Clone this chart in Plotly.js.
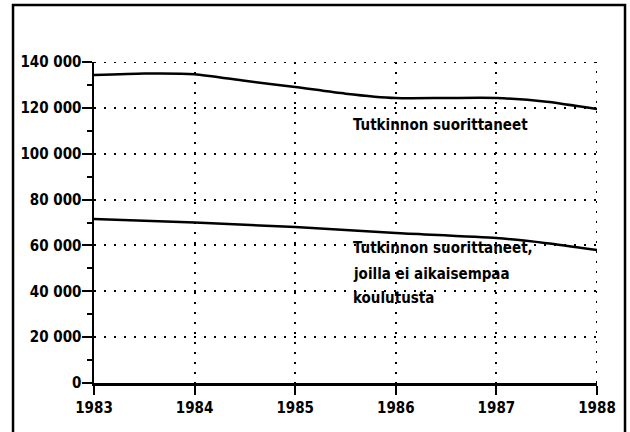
<!DOCTYPE html>
<html>
<head>
<meta charset="utf-8">
<script src="https://cdn.plot.ly/plotly-3.0.1.min.js"></script>
<style>html,body{margin:0;padding:0;background:#fff;}#chart{width:630px;height:432px;}</style>
</head>
<body>
<div id="chart"></div>
<script>
// Data
const yearsTop = [1983, 1983.5, 1984, 1984.5, 1985, 1985.5, 1986, 1986.5, 1987, 1987.5, 1988];
const totalGraduates = [134300, 135000, 134700, 131800, 129100, 126200, 124300, 124300, 124300, 122700, 119500];
const yearsBottom = [1983, 1984, 1985, 1986, 1987, 1987.5, 1988];
const graduatesNoPrior = [71500, 70000, 68000, 65400, 63200, 61000, 58000];
const xTicks = [1983, 1984, 1985, 1986, 1987, 1988];
const yTicks = [0, 20000, 40000, 60000, 80000, 100000, 120000, 140000];
const labelTop = "Tutkinnon suorittaneet";
const labelBottomLines = ["Tutkinnon suorittaneet,", "joilla ei aikaisempaa", "koulutusta"];
const labelBottomY = [58900, 47500, 37100];

const FONT = {family: "DejaVu Sans Condensed, Liberation Sans Narrow, sans-serif", size: 15, color: "#000", weight: "bold"};
const DOTS = "2px,8px";

const traces = [
  {x: yearsTop, y: totalGraduates, mode: "lines", line: {color: "#000", width: 2.5, shape: "spline", smoothing: 0.6}, hoverinfo: "skip"},
  {x: yearsBottom, y: graduatesNoPrior, mode: "lines", line: {color: "#000", width: 2.5, shape: "spline", smoothing: 0.6}, hoverinfo: "skip"}
];

const annotations = [
  {x: 1985.55, y: 112500, xref: "x", yref: "y", text: labelTop, showarrow: false, xanchor: "left", yanchor: "middle", align: "left", font: FONT}
].concat(labelBottomLines.map((t, i) => ({
  x: 1985.55, y: labelBottomY[i], xref: "x", yref: "y", text: t, showarrow: false,
  xanchor: "left", yanchor: "middle", align: "left", font: FONT
})));

const layout = {
  width: 630, height: 432,
  margin: {l: 94, r: 33, t: 62, b: 49},
  paper_bgcolor: "#fff", plot_bgcolor: "#fff",
  showlegend: false,
  separators: ", ",
  font: FONT,
  xaxis: {
    range: [1983, 1988], tickvals: xTicks, ticktext: xTicks.map(String),
    showline: true, linecolor: "#000", linewidth: 2.5,
    ticks: "outside", ticklen: 9, tickwidth: 2, tickcolor: "#000",
    showgrid: true, gridcolor: "#000", gridwidth: 2, griddash: DOTS,
    zeroline: false, tickfont: FONT, fixedrange: true
  },
  yaxis: {
    range: [0, 140000], tickvals: yTicks, tickformat: ",",
    showline: true, linecolor: "#000", linewidth: 2.5,
    ticks: "outside", ticklen: 10, tickwidth: 2, tickcolor: "#000",
    ticklabelstandoff: -3,
    minor: {dtick: 10000, ticks: "outside", ticklen: 5, tickwidth: 2, tickcolor: "#000", showgrid: false},
    showgrid: true, gridcolor: "#000", gridwidth: 2, griddash: DOTS,
    zeroline: false, tickfont: FONT, fixedrange: true
  },
  annotations: annotations,
  shapes: [
    {type: "rect", xref: "paper", yref: "paper", x0: -0.161, x1: 1.0557, y0: -0.3, y1: 1.1776, line: {color: "#000", width: 2.5}},
    {type: "line", xref: "paper", yref: "y", x0: 0, x1: 1, y0: 140000, y1: 140000, line: {color: "#000", width: 2, dash: DOTS}},
    {type: "line", xref: "x", yref: "paper", x0: 1988, x1: 1988, y0: 0, y1: 1, line: {color: "#000", width: 2, dash: DOTS}}
  ]
};

Plotly.newPlot("chart", traces, layout, {staticPlot: true, displayModeBar: false});
</script>
</body>
</html>
